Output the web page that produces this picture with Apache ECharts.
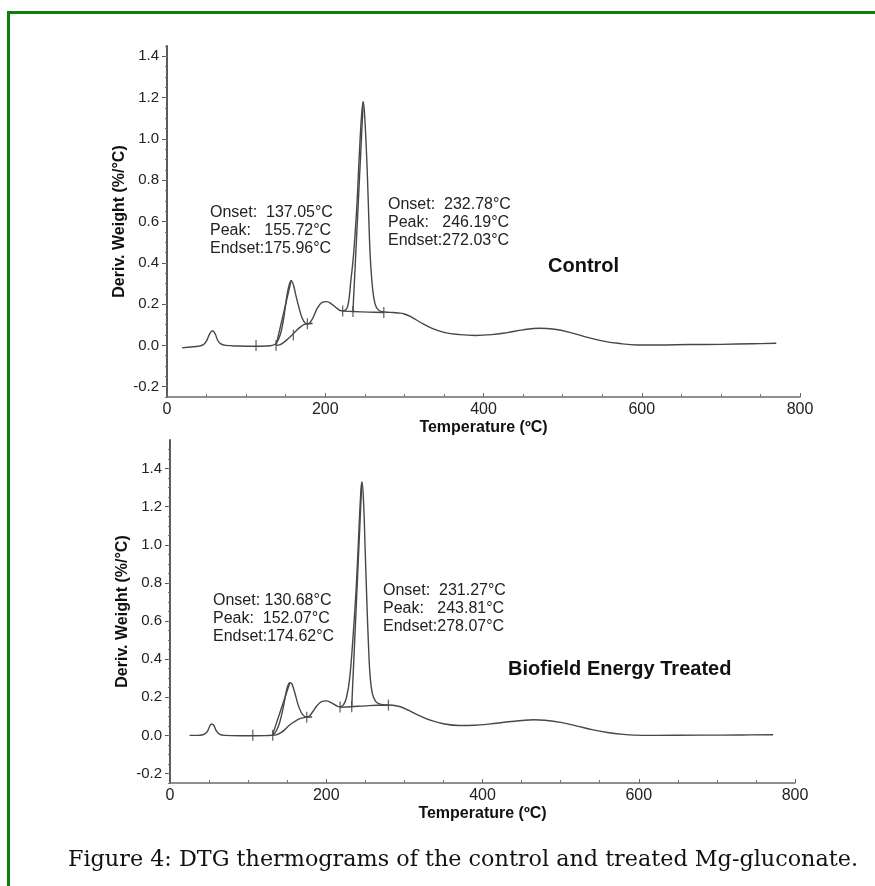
<!DOCTYPE html>
<html>
<head>
<meta charset="utf-8">
<title>DTG thermograms</title>
<script src="https://cdn.jsdelivr.net/npm/echarts@6/dist/echarts.min.js"></script>
<style>
  html, body { margin: 0; padding: 0; background: #fff; }
  #chart { width: 875px; height: 886px; }
</style>
</head>
<body>
<div id="chart"></div>
<script>
// [temperature °C, deriv. weight %/°C]

// control
var controlCurve = [
  [19,-0.012],[30,-0.008],[40,-0.004],[46,0.004],[50,0.022],[54,0.056],[57.5,0.071],[61,0.055],[64,0.025],[68,0.007],
  [74,0.0],[90,-0.003],[110,-0.004],[125,-0.003],[133,0.0],[138,0.01],[143,0.05],[147,0.12],[150,0.2],[153,0.27],
  [157,0.315],[160,0.29],[163,0.24],[167,0.18],[171,0.13],[175,0.107],[178,0.104],[184,0.13],[190,0.18],[196,0.208],
  [202,0.212],[208,0.2],[214,0.182],[220,0.168],[225,0.17],[229,0.2],[232,0.3],[236,0.45],[240,0.68],[243,0.92],
  [246,1.12],[248,1.18],[250,1.1],[253,0.85],[255,0.62],[257,0.42],[260,0.27],[263,0.2],[267,0.172],[272,0.163],
  [282,0.16],[292,0.157],[300,0.152],[310,0.135],[320,0.112],[335,0.082],[350,0.063],[370,0.052],[390,0.048],[410,0.052],
  [430,0.062],[450,0.075],[470,0.083],[490,0.078],[510,0.062],[530,0.04],[550,0.022],[570,0.01],[594,0.002],[620,0.002],
  [660,0.004],[700,0.005],[740,0.008],[770,0.01]
];
var controlBase1 = [[138,0],[143,0.004],[148,0.016],[153,0.032],[158,0.05],[163,0.07],[168,0.087],[173,0.1],[178,0.105],[184,0.106]];
var controlBase2 = [[222,0.166],[235,0.164],[255,0.161],[274,0.159]];
var controlTangent1 = [[137.8,0],[157,0.315]];
var controlTangent2 = [[235,0.164],[248,1.18]];
var controlMarks = [[112.5,0],[137.8,0],[159.7,0.05],[177.4,0.105],[222,0.166],[235,0.164],[274,0.159]];

// biofield energy treated
var treatedCurve = [
  [25,0],[35,0.0],[42,0.003],[47,0.016],[50,0.04],[53,0.06],[56,0.053],[59,0.026],[63,0.007],[70,0.0],
  [90,-0.002],[110,-0.002],[125,-0.001],[130,0.0],[134,0.01],[139,0.05],[143,0.11],[147,0.19],[150,0.25],[153.5,0.277],
  [156,0.27],[160,0.22],[164,0.16],[168,0.12],[172,0.1],[176,0.096],[182,0.12],[188,0.155],[194,0.177],[200,0.181],
  [206,0.172],[212,0.158],[217,0.15],[222,0.16],[226,0.2],[230,0.3],[234,0.5],[238,0.75],[241,1.0],[243.5,1.22],
  [245.5,1.33],[247.5,1.25],[250,0.95],[252,0.7],[254,0.48],[256,0.32],[259,0.22],[263,0.18],[268,0.165],[275,0.16],
  [285,0.158],[295,0.15],[305,0.132],[320,0.102],[335,0.077],[350,0.061],[370,0.052],[390,0.053],[410,0.06],[430,0.07],
  [450,0.078],[466,0.082],[480,0.079],[500,0.068],[520,0.05],[540,0.03],[560,0.015],[580,0.005],[594,0.001],[620,0.0],
  [680,0.001],[730,0.002],[772,0.003]
];
var treatedBase1 = [[131,0],[137,0.004],[142,0.014],[147,0.03],[152,0.05],[157,0.066],[162,0.079],[167,0.089],[172,0.094],[176,0.096],[182,0.096]];
var treatedBase2 = [[218,0.147],[232,0.15],[250,0.155],[265,0.158],[280,0.158]];
var treatedTangent1 = [[131,0],[153.5,0.277]];
var treatedTangent2 = [[232.6,0.15],[245.5,1.33]];
var treatedMarks = [[106,0],[131.5,0],[175,0.095],[217.7,0.149],[232.6,0.15],[279.6,0.159]];

var yTicks = [-0.2, 0, 0.2, 0.4, 0.6, 0.8, 1.0, 1.2, 1.4];

var controlNotes = ['Onset:  137.05°C', 'Peak:   155.72°C', 'Endset:175.96°C'];
var controlNotes2 = ['Onset:  232.78°C', 'Peak:   246.19°C', 'Endset:272.03°C'];
var treatedNotes = ['Onset: 130.68°C', 'Peak:  152.07°C', 'Endset:174.62°C'];
var treatedNotes2 = ['Onset:  231.27°C', 'Peak:   243.81°C', 'Endset:278.07°C'];

var chart = echarts.init(document.getElementById('chart'));

var minorY = [];
for (var t = -0.25; t <= 1.55; t += 0.05) minorY.push(Math.round(t * 100) / 100);

var lineColor = '#474747';
var sansFont = '"Liberation Sans", Arial, sans-serif';

function xAxisFor(gi) {
  return {
    gridIndex: gi, type: 'value', min: 0, max: 800, interval: 200,
    axisLine: { onZero: false, lineStyle: { color: '#6a6a6a', width: 1.5 } },
    axisTick: { inside: true, length: 4, lineStyle: { color: '#666' } },
    minorTick: { show: true, splitNumber: 4, length: 3, lineStyle: { color: '#777' } },
    axisLabel: { fontSize: 16, color: '#222', margin: 5, fontFamily: sansFont },
    splitLine: { show: false },
    name: 'Temperature (ºC)', nameLocation: 'middle', nameGap: 23,
    nameTextStyle: { fontWeight: 'bold', fontSize: 16, color: '#111', fontFamily: sansFont }
  };
}
function yAxesFor(gi, min, max) {
  return [{
    gridIndex: gi, type: 'value', position: 'left', min: min, max: max,
    axisLine: { show: true, onZero: false, lineStyle: { color: '#5a5a5a', width: 2 } },
    axisTick: { show: true, customValues: yTicks, length: 5, lineStyle: { color: '#555' } },
    axisLabel: { customValues: yTicks, fontSize: 15, color: '#222', margin: 8, fontFamily: sansFont,
      formatter: function (v) { return v.toFixed(1); } },
    splitLine: { show: false },
    name: 'Deriv. Weight (%/°C)', nameLocation: 'middle', nameGap: 39, nameMoveOverlap: false,
    nameTextStyle: { fontWeight: 'bold', fontSize: 16, color: '#111', fontFamily: sansFont }
  }, {
    gridIndex: gi, type: 'value', position: 'left', min: min, max: max,
    axisLine: { show: false },
    axisTick: { show: true, customValues: minorY, length: 2, lineStyle: { color: '#777' } },
    axisLabel: { show: false },
    splitLine: { show: false }
  }];
}
function curve(gi, data, smooth) {
  return {
    type: 'line', xAxisIndex: gi, yAxisIndex: gi * 2, data: data,
    smooth: smooth, symbol: 'none', silent: true,
    lineStyle: { color: lineColor, width: 1.4 }
  };
}
function marks(gi, data) {
  return {
    type: 'scatter', xAxisIndex: gi, yAxisIndex: gi * 2, data: data,
    symbol: 'rect', symbolSize: [1.3, 11], silent: true,
    itemStyle: { color: '#444' }
  };
}
function note(x, y, lines) {
  return {
    type: 'text', left: x, top: y,
    style: { text: lines.join('\n'), font: '16px ' + sansFont, fill: '#222', lineHeight: 18 }
  };
}

var option = {
  animation: false,
  backgroundColor: '#fff',
  grid: [
    { left: 167, top: 46, width: 633, height: 351 },
    { left: 170, top: 440, width: 625, height: 343 }
  ],
  xAxis: [xAxisFor(0), xAxisFor(1)],
  yAxis: yAxesFor(0, -0.25, 1.45).concat(yAxesFor(1, -0.25, 1.55)),
  series: [
    curve(0, controlCurve, 0.4),
    curve(0, controlBase1, 0.4),
    curve(0, controlBase2, 0.4),
    curve(0, controlTangent1, false),
    curve(0, controlTangent2, false),
    marks(0, controlMarks),
    curve(1, treatedCurve, 0.4),
    curve(1, treatedBase1, 0.4),
    curve(1, treatedBase2, 0.4),
    curve(1, treatedTangent1, false),
    curve(1, treatedTangent2, false),
    marks(1, treatedMarks)
  ],
  graphic: [
    { type: 'line', shape: { x1: 8, y1: 12.5, x2: 875, y2: 12.5 }, style: { stroke: '#0a800a', lineWidth: 3 } },
    { type: 'line', shape: { x1: 8.5, y1: 11, x2: 8.5, y2: 886 }, style: { stroke: '#0a800a', lineWidth: 3 } },
    note(210, 204, controlNotes),
    note(388, 196, controlNotes2),
    { type: 'text', left: 548, top: 256, style: { text: 'Control', font: 'bold 20px ' + sansFont, fill: '#111' } },
    note(213, 592, treatedNotes),
    note(383, 582, treatedNotes2),
    { type: 'text', left: 508, top: 659, style: { text: 'Biofield Energy Treated', font: 'bold 20px ' + sansFont, fill: '#111' } },
    { type: 'text', left: 68, top: 849,
      style: { text: 'Figure 4: DTG thermograms of the control and treated Mg-gluconate.', font: '22.3px "DejaVu Serif", serif', fill: '#111' } }
  ]
};
chart.setOption(option);
</script>
</body>
</html>
